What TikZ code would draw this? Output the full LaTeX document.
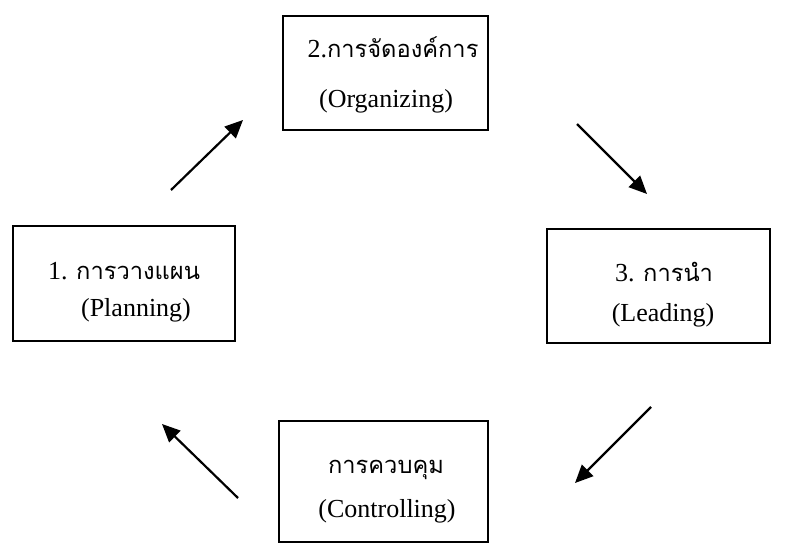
\documentclass[tikz,border=0pt]{standalone}
\usepackage{fontspec}
\setmainfont{Liberation Serif}
\newfontfamily\thaifont[Script=Thai,Scale=0.91]{Loma}
\usetikzlibrary{arrows.meta}
\begin{document}
\begin{tikzpicture}[x=1pt,y=-1pt,
  box/.style={draw,line width=1.3pt,inner sep=0pt},
  txt/.style={anchor=base,inner sep=0pt,font=\fontsize{26}{28}\selectfont},
  arr/.style={line width=2.2pt,-{Triangle[length=18pt,width=16pt]}}]
\useasboundingbox (0,0) rectangle (797,559);
\node[box,minimum width=205pt,minimum height=114pt] (b2) at (385.5,73) {};
\node[box,minimum width=222pt,minimum height=115pt] (b1) at (124,283.5) {};
\node[box,minimum width=223pt,minimum height=114pt] (b3) at (658.5,286) {};
\node[box,minimum width=209pt,minimum height=121pt] (b4) at (383.5,481.5) {};
\node[txt] (t2a) at (393,58) {2.{\thaifont การจัดองค์การ}};
\node[txt] (t2b) at (386,107) {(Organizing)};
\node[txt] (t1a) at (124,279) {1. {\thaifont การวางแผน}};
\node[txt] (t1b) at (136,316) {(Planning)};
\node[txt] (t3a) at (664,281) {3. {\thaifont การนำ}};
\node[txt] (t3b) at (663,321) {(Leading)};
\node[txt] (t4a) at (386,473) {{\thaifont การควบคุม}};
\node[txt] (t4b) at (387,517) {(Controlling)};
\coordinate (a1s) at (171,190); \coordinate (a1e) at (243,120);
\coordinate (a2s) at (577,124); \coordinate (a2e) at (647,194);
\coordinate (a3s) at (651,407); \coordinate (a3e) at (575,483);
\coordinate (a4s) at (238,498); \coordinate (a4e) at (162,424);
\draw[arr] (a1s) -- (a1e);
\draw[arr] (a2s) -- (a2e);
\draw[arr] (a3s) -- (a3e);
\draw[arr] (a4s) -- (a4e);
\end{tikzpicture}
\end{document}
